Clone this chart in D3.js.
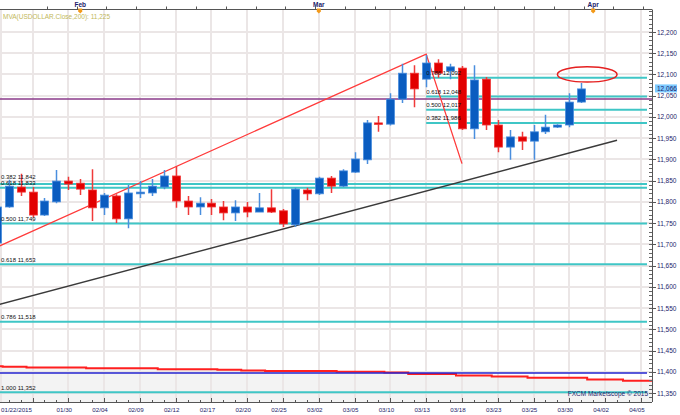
<!DOCTYPE html>
<html><head><meta charset="utf-8">
<script src="https://cdn.jsdelivr.net/npm/d3@7"></script>
<style>body{margin:0;background:#fff}svg{display:block}text{font-family:"Liberation Sans",Arial,sans-serif}</style>
</head><body><svg id="c" width="680" height="415"></svg>
<script>
// ---------- data ----------
// candle index 0..49
const opens  = [11703,11788,11835,11823,11769,11800,11849,11844,11828,11786,11814,11760,11819,11821,11835,11861,11802,11788,11797,11788,11774,11788,11776,11786,11779,11746,11828,11819,11856,11837,11870,11899,11986,11983,12042,12103,12089,12127,12108,12115,11972,12089,11981,11929,11953,11943,11965,11976,11981,12035];
const highs  = [11800,11852,11866,11835,11809,11875,11859,11854,11877,11821,11818,11840,11849,11854,11875,11884,11814,11811,11807,11802,11804,11800,11821,11830,11783,11833,11833,11859,11861,11877,11917,11993,12002,12056,12125,12122,12146,12136,12125,12120,12122,12094,11993,11969,11965,11981,12005,11983,12056,12080];
const lows   = [11700,11786,11814,11764,11767,11797,11828,11816,11755,11769,11750,11738,11809,11814,11830,11786,11769,11769,11769,11757,11755,11764,11776,11774,11741,11741,11804,11816,11821,11835,11868,11889,11965,11980,12033,12023,12070,12092,12089,11969,11948,11969,11917,11899,11922,11899,11960,11974,11976,12033];
const closes = [11788,11837,11823,11769,11802,11849,11842,11830,11786,11816,11760,11821,11823,11837,11861,11802,11788,11797,11788,11774,11788,11776,11786,11776,11748,11830,11819,11856,11837,11873,11901,11986,11983,12042,12103,12066,12127,12103,12118,11972,12087,11981,11929,11953,11943,11965,11976,11981,12035,12066];
// 200-period moving average (candle 0..54)
const maValues = [11413,11412,11412,11410,11410,11410,11410,11410,11408,11408,11408,11408,11408,11408,11406,11406,11406,11406,11406,11405,11405,11403,11403,11402,11402,11402,11402,11402,11402,11400,11400,11400,11400,11398,11398,11395,11395,11395,11395,11391,11391,11391,11389,11389,11389,11386,11386,11386,11386,11386,11382,11382,11382,11379,11379];
const maLabel = "MVA(USDOLLAR.Close,200): 11,225";
const lastPrice = 12066;
// date axis: label every 3rd candle starting at candle 3
const dateLabels = ["01/22/2015","01/30","02/04","02/09","02/12","02/17","02/20","02/25","03/02","03/05","03/10","03/13","03/18","03/23","03/25","03/30","04/02","04/05"];
const dateLabelIdx = [3,6,9,12,15,18,21,24,27,30,33,36,39,42,45,48,51,54];
const months = ["Feb","Mar","Apr"];
const monthIdx = [7,27,50];
// price ticks
const priceTicks = [11350,11400,11450,11500,11550,11600,11650,11700,11750,11800,11850,11900,11950,12000,12050,12100,12150,12200];
// fibonacci retracement levels
const fibLeftRatios = ["0.382","0.618","0.500","0.618","0.786","1.000"];
const fibLeftValues = [11842,11833,11749,11653,11518,11352];
const fibRightRatios = ["0.786","0.618","0.500","0.382"];
const fibRightValues = [12092,12048,12017,11986];
const fibRightStart = 36;
const purpleLevel = 12042;
const blueLevel = 11397;
// drawn lines
const zigzagIdx = [-27,36,39];
const zigzagVal = [11352,12148,11890];
const trendIdx = [0,52];
const trendVal = [11557,11945];
// annotation ellipse (center index, center value, half width in candles, half height in value)
const ellipseC = [49.5,12100]; const ellipseR = [2.5,18];

// ---------- chart ----------
const svg = d3.select("#c");
const L=0, R=652, T=9.5, B=402;
const x = d3.scaleLinear().domain([0,54]).range([-3.28,640.9]);
const y = d3.scaleLinear().domain([11350,12200]).range([393,32]);
const fmt = d3.format(",");
const navy="#1c1c6a";

svg.append("rect").attr("width",680).attr("height",415).attr("fill","#fff");
svg.append("clipPath").attr("id","clip").append("rect").attr("x",L).attr("y",T).attr("width",R-L).attr("height",B-T);
const g = svg.append("g").attr("clip-path","url(#clip)");

// grey area under MA
const maPts = maValues.map((v,i)=>({i,v}));
g.append("path").datum(maPts.concat([{i:56,v:maValues[54]}]))
 .attr("d", d3.area().x(d=>x(d.i)-6).y0(B).y1(d=>y(d.v)).curve(d3.curveStepAfter))
 .attr("fill","#f3f3f3");

// grid
const gridC="#ebe6e6";
g.selectAll(".hg").data(priceTicks).join("line").attr("x1",L).attr("x2",R)
 .attr("y1",d=>Math.round(y(d))).attr("y2",d=>Math.round(y(d))).attr("stroke",gridC).attr("stroke-width",2);
g.selectAll(".vg").data(dateLabelIdx).join("line").attr("y1",T).attr("y2",B)
 .attr("x1",d=>Math.round(x(d))).attr("x2",d=>Math.round(x(d))).attr("stroke",gridC).attr("stroke-width",2);
g.append("line").attr("x1",1).attr("x2",1).attr("y1",T).attr("y2",B).attr("stroke",gridC).attr("stroke-width",2);

// MA line & blue level
g.append("path").datum(maPts.concat([{i:56,v:maValues[54]}]))
 .attr("d", d3.line().x(d=>x(d.i)-6).y(d=>y(d.v)).curve(d3.curveStepAfter))
 .attr("fill","none").attr("stroke","#ff1f1f").attr("stroke-width",2);
g.append("line").attr("x1",L).attr("x2",R-5).attr("y1",y(blueLevel)).attr("y2",y(blueLevel)).attr("stroke","#2424d0").attr("stroke-width",1.5);

// fib lines
const teal="#3fc6c6";
fibLeftValues.forEach((v,k)=>{
  g.append("line").attr("x1",L).attr("x2",R-5).attr("y1",y(v)).attr("y2",y(v)).attr("stroke",teal).attr("stroke-width",2);
});
fibRightValues.forEach((v,k)=>{
  g.append("line").attr("x1",x(fibRightStart)).attr("x2",R-5).attr("y1",y(v)).attr("y2",y(v)).attr("stroke",teal).attr("stroke-width",2);
});
g.append("line").attr("x1",L).attr("x2",R).attr("y1",y(purpleLevel)).attr("y2",y(purpleLevel)).attr("stroke","#8a3a8a").attr("stroke-width",1.5);

// trend line & zigzag
g.append("path").datum(trendIdx.map((d,k)=>({i:d,v:trendVal[k]})))
 .attr("d",d3.line().x(d=>x(d.i)).y(d=>y(d.v))).attr("stroke","#3a3a3a").attr("stroke-width",1.4).attr("fill","none");
g.append("path").datum(zigzagIdx.map((d,k)=>({i:d,v:zigzagVal[k]})))
 .attr("d",d3.line().x(d=>x(d.i)).y(d=>y(d.v))).attr("stroke","#ff3b3b").attr("stroke-width",1.3).attr("fill","none");

// candles
const cd = opens.map((o,i)=>({i,o,h:highs[i],l:lows[i],c:closes[i]}));
const up="#0a5cc0", upW="#4a8ede", dn="#e20000", dnW="#f03a3a";
const cg = g.selectAll(".cd").data(cd).join("g");
cg.append("line").attr("x1",d=>Math.round(x(d.i))+0.5).attr("x2",d=>Math.round(x(d.i))+0.5)
 .attr("y1",d=>y(d.h)).attr("y2",d=>y(d.l)).attr("stroke",d=>d.c>=d.o?upW:dnW).attr("stroke-width",1.5);
cg.append("rect").attr("x",d=>Math.round(x(d.i))-3.5).attr("width",8)
 .attr("y",d=>y(Math.max(d.o,d.c))).attr("height",d=>Math.max(1.5,Math.abs(y(d.o)-y(d.c))))
 .attr("fill",d=>d.c>=d.o?up:dn).attr("stroke",d=>d.c>=d.o?upW:dnW).attr("stroke-width",0.8);

// ellipse
g.append("ellipse").attr("cx",x(ellipseC[0])).attr("cy",y(ellipseC[1]))
 .attr("rx",x(ellipseR[0])-x(0)).attr("ry",y(ellipseC[1]-ellipseR[1])-y(ellipseC[1]))
 .attr("fill","none").attr("stroke","#e52020").attr("stroke-width",1.5);

// fib labels (stack labels that would collide upward)
function fibLabels(vals, ratios, x0){
  let prev = Infinity;
  vals.map((v,k)=>({v,k})).sort((a,b)=>a.v-b.v).forEach(({v,k})=>{
    let yy = y(v)-2.5;
    if(prev-yy < 6) yy = prev-6;
    prev = yy;
    g.append("text").attr("x",x0).attr("y",yy).attr("font-size",6).attr("fill","#111").text(ratios[k]+" "+fmt(v));
  });
}
fibLabels(fibLeftValues, fibLeftRatios, 1);
fibLabels(fibRightValues, fibRightRatios, x(fibRightStart));

// MA label
svg.append("text").attr("x",3).attr("y",19).attr("font-size",6.5).attr("fill","#c2b85a").text(maLabel);
// watermark
svg.append("text").attr("x",R-4).attr("y",396).attr("text-anchor","end").attr("font-size",6.5).attr("fill",navy).text("FXCM Marketscope © 2015");

// right axis
svg.append("line").attr("x1",R+0.5).attr("x2",R+0.5).attr("y1",T).attr("y2",B).attr("stroke","#555");
d3.range(11340,12260,10).forEach(v=>{ if(y(v)>T && y(v)<B) svg.append("line").attr("x1",R-3).attr("x2",R).attr("y1",Math.round(y(v))+0.5).attr("y2",Math.round(y(v))+0.5).attr("stroke","#666"); });
priceTicks.forEach(v=>{
  svg.append("line").attr("x1",R).attr("x2",R+4).attr("y1",Math.round(y(v))+0.5).attr("y2",Math.round(y(v))+0.5).attr("stroke","#555");
  svg.append("text").attr("x",R+5).attr("y",y(v)+2.5).attr("font-size",6.5).attr("fill",navy).text(fmt(v));
});
svg.append("rect").attr("x",R+3).attr("y",y(lastPrice)-4.5).attr("width",22).attr("height",8).attr("fill","#7ecbff");
svg.append("text").attr("x",R+5).attr("y",y(lastPrice)+2.5).attr("font-size",6.5).attr("fill",navy).text(fmt(lastPrice));

// bottom axis
svg.append("line").attr("x1",L).attr("x2",R).attr("y1",B+0.5).attr("y2",B+0.5).attr("stroke","#555");
d3.range(0,55).forEach(i=>{ const xx=Math.round(x(i))+0.5; if(xx>0&&xx<R) svg.append("line").attr("x1",xx).attr("x2",xx).attr("y1",B-2).attr("y2",B).attr("stroke","#555");});
dateLabelIdx.forEach((i,k)=>{
  svg.append("line").attr("x1",Math.round(x(i))+0.5).attr("x2",Math.round(x(i))+0.5).attr("y1",B-4).attr("y2",B).attr("stroke","#555");
  const t=svg.append("text").attr("y",412).attr("font-size",6.2).attr("fill",navy).text(dateLabels[k]);
  if(k===0) t.attr("x",1); else t.attr("x",x(i)-4).attr("text-anchor","middle");
});

// top axis
svg.append("line").attr("x1",L).attr("x2",R).attr("y1",T).attr("y2",T).attr("stroke","#555");
d3.range(0,22).forEach(k=>{ const xx=Math.round(x(4.2+2.5*k))+0.5; if(xx<R) svg.append("line").attr("x1",xx).attr("x2",xx).attr("y1",T-3).attr("y2",T).attr("stroke","#555");});
months.forEach((m,k)=>{
  const xx=x(monthIdx[k]);
  svg.append("text").attr("x",xx).attr("y",7).attr("text-anchor","middle").attr("font-size",6.5).attr("font-weight","bold").attr("fill",navy).text(m);
  svg.append("path").attr("d",`M${xx-2},${T-1}h4v3l-2,2l-2,-2z`).attr("fill","#f39a1a");
});
</script></body></html>
